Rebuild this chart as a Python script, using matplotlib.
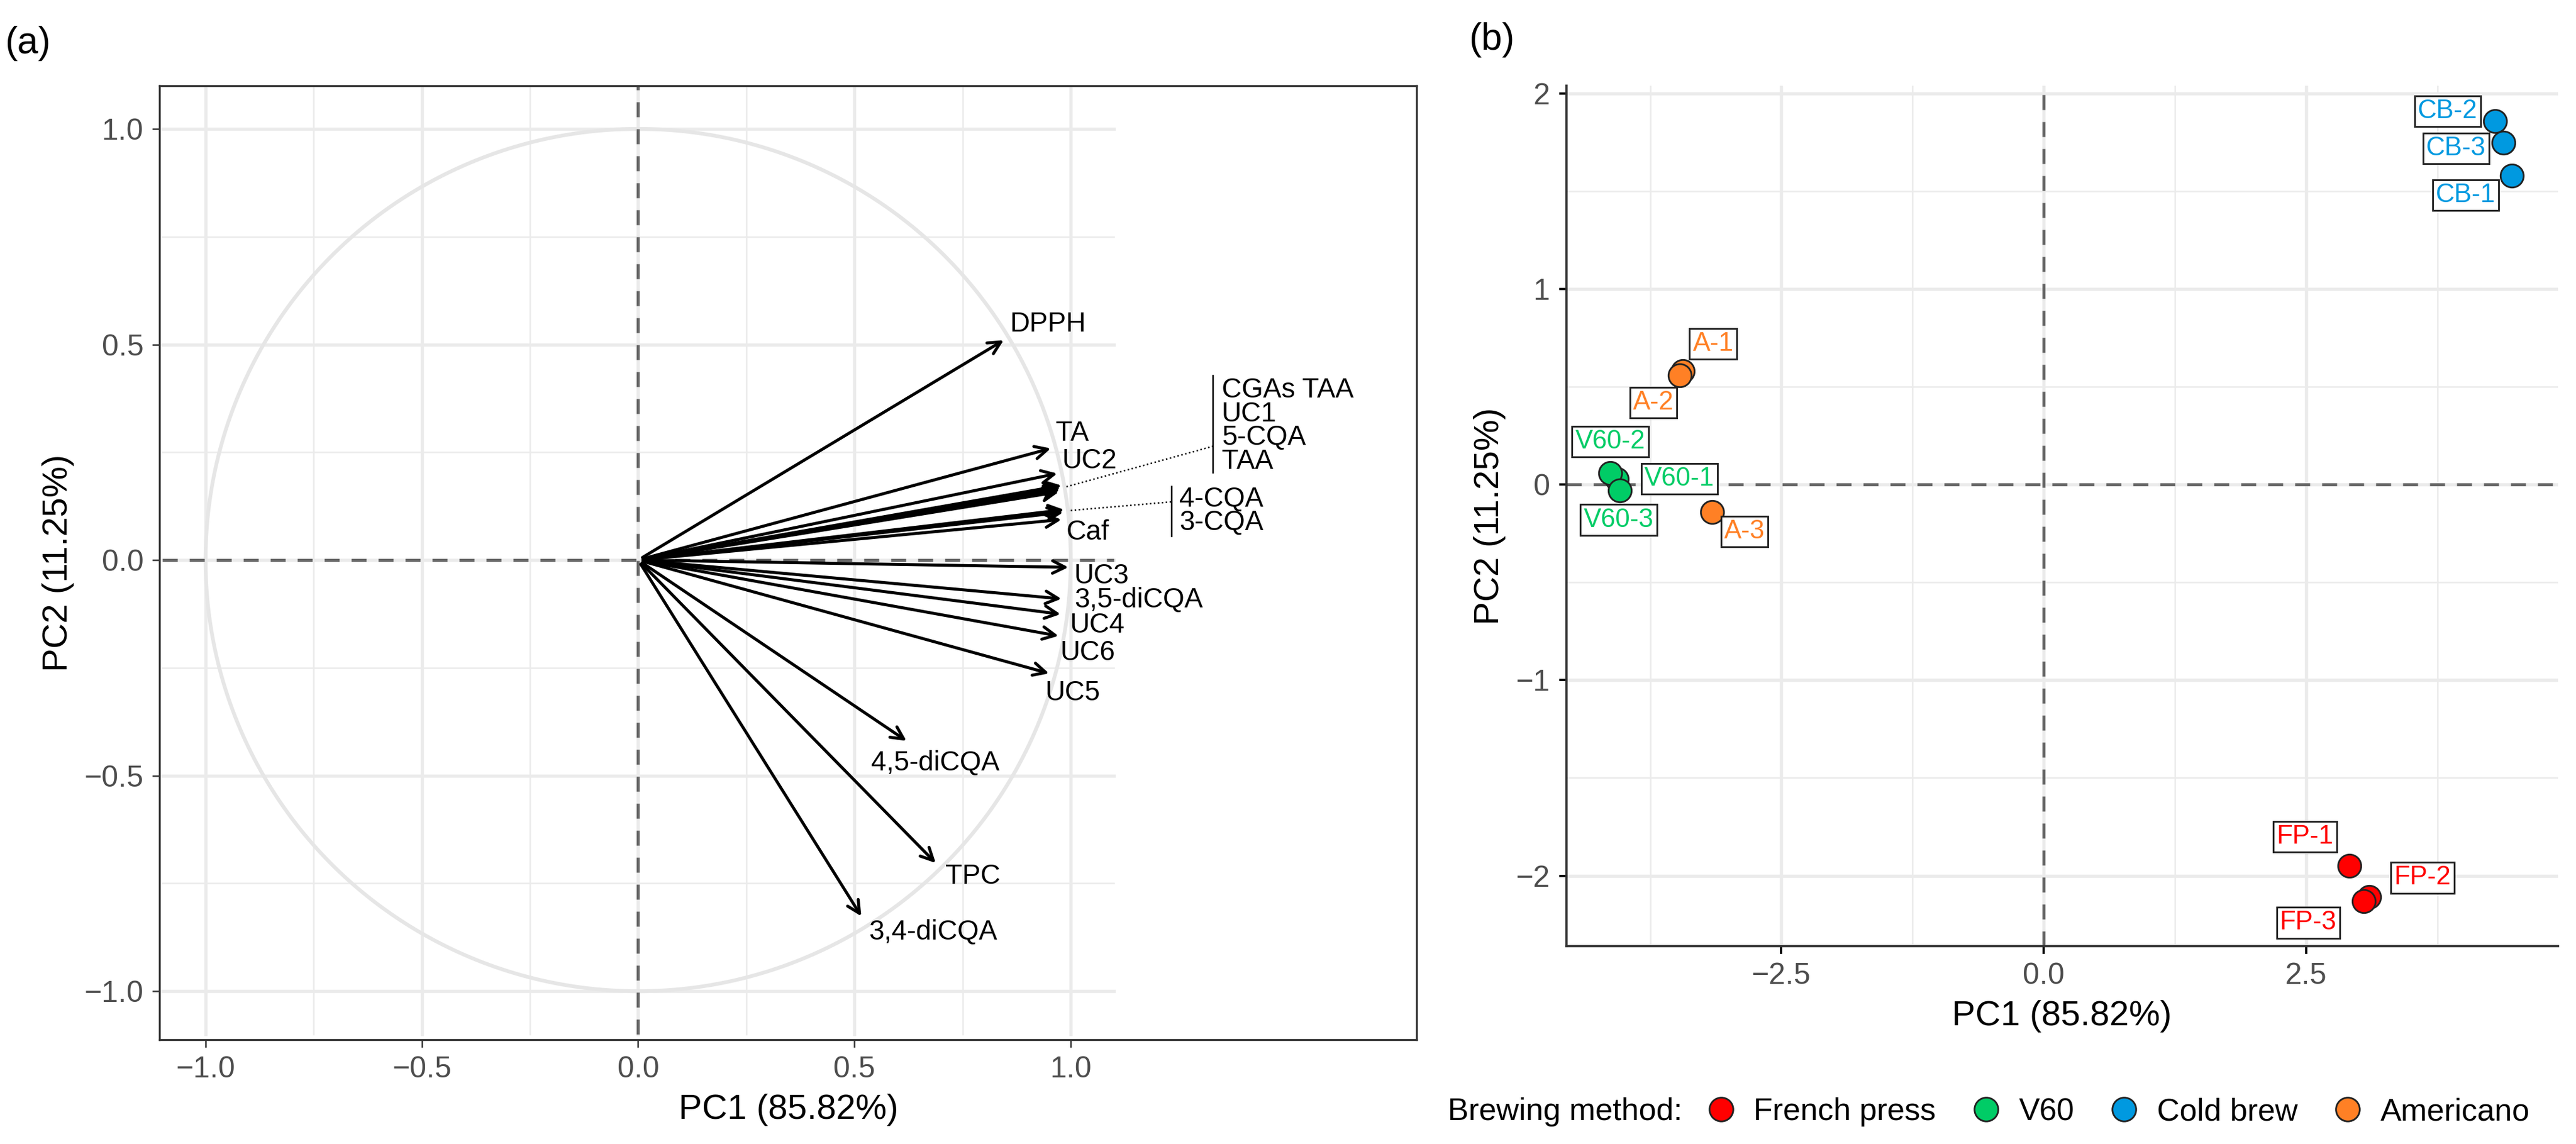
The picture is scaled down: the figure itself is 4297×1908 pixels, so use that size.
import numpy as np
import matplotlib.pyplot as plt
from matplotlib.lines import Line2D
from matplotlib.offsetbox import HPacker

plt.rcParams['font.family'] = ['Liberation Sans', 'DejaVu Sans']

# panel (a): loadings
var_names = ['DPPH', 'TA', 'UC2', 'CGAs TAA', 'UC1', '5-CQA', 'TAA', '4-CQA', '3-CQA', 'Caf',
             'UC3', '3,5-diCQA', 'UC4', 'UC6', 'UC5', '4,5-diCQA', 'TPC', '3,4-diCQA']
load_pc1 = [0.855, 0.965, 0.980, 0.990, 0.988, 0.986, 0.984, 0.996, 0.994, 0.990,
            1.006, 0.990, 0.988, 0.983, 0.961, 0.63, 0.696, 0.522]
load_pc2 = [0.516, 0.262, 0.203, 0.175, 0.170, 0.165, 0.160, 0.118, 0.112, 0.095,
            -0.017, -0.091, -0.127, -0.178, -0.266, -0.426, -0.711, -0.836]
single_labels = {'DPPH': (0.859, 0.547), 'TA': (0.965, 0.293), 'UC2': (0.98, 0.23), 'Caf': (0.99, 0.064),
                 'UC3': (1.008, -0.037), '3,5-diCQA': (1.008, -0.093), 'UC4': (0.998, -0.152),
                 'UC6': (0.976, -0.215), 'UC5': (0.941, -0.308), '4,5-diCQA': (0.539, -0.472),
                 'TPC': (0.71, -0.734), '3,4-diCQA': (0.533, -0.863)}
group1 = ['CGAs TAA', 'UC1', '5-CQA', 'TAA']
group2 = ['4-CQA', '3-CQA']

# panel (b): scores
samples = ['CB-1', 'CB-2', 'CB-3', 'A-1', 'A-2', 'A-3', 'V60-1', 'V60-2', 'V60-3', 'FP-1', 'FP-2', 'FP-3']
method = ['Cold brew'] * 3 + ['Americano'] * 3 + ['V60'] * 3 + ['French press'] * 3
score_pc1 = [4.46, 4.30, 4.38, -3.44, -3.47, -3.16, -4.07, -4.13, -4.04, 2.91, 3.10, 3.05]
score_pc2 = [1.58, 1.86, 1.75, 0.58, 0.56, -0.14, 0.03, 0.06, -0.03, -1.95, -2.11, -2.13]
label_x = [4.02, 3.85, 3.93, -3.15, -3.72, -2.85, -3.47, -4.13, -4.05, 2.49, 3.61, 2.52]
label_y = [1.48, 1.91, 1.72, 0.72, 0.42, -0.24, 0.03, 0.22, -0.18, -1.80, -2.01, -2.24]
method_order = ['French press', 'V60', 'Cold brew', 'Americano']
method_colors = {'French press': '#FF0000', 'V60': '#00CC66', 'Cold brew': '#0099E0', 'Americano': '#FF8025'}

fig = plt.figure(figsize=(4297 / 300, 1908 / 300), dpi=300)
grid_c = '#EBEBEB'

# ---- panel (a)
ax = fig.add_axes([0.062, 0.091, 0.488, 0.834])
ax.set_xlim(-1.106, 1.80)
ax.set_ylim(-1.113, 1.10)
for v in np.arange(-1.0, 1.01, 0.25):
    lw = 1.3 if abs(v * 2 - round(v * 2)) < 1e-6 else 0.6
    ax.plot([v, v], [-1.1, 1.1], color=grid_c, lw=lw, zorder=0)
    ax.plot([-1.1, 1.1], [v, v], color=grid_c, lw=lw, zorder=0)
t = np.linspace(0, 2 * np.pi, 400)
ax.plot(np.cos(t), np.sin(t), color='#E6E6E6', lw=1.5, zorder=1)
ax.plot([0, 0], [-1.1, 1.1], color='#666666', lw=1.2, ls=(0, (5, 4)), zorder=2)
ax.plot([-1.1, 1.1], [0, 0], color='#666666', lw=1.2, ls=(0, (5, 4)), zorder=2)
for x, y in zip(load_pc1, load_pc2):
    ax.annotate('', xy=(x, y), xytext=(0, 0),
                arrowprops=dict(arrowstyle='->,head_length=0.5,head_width=0.25', color='black', lw=1.2), zorder=3)
for name, (lx, ly) in single_labels.items():
    ax.text(lx, ly, name, fontsize=11, ha='left', va='center')
for i, name in enumerate(group1):
    ax.text(1.349, 0.394 - i * 0.0553, name, fontsize=11, ha='left', va='center')
ax.plot([1.329, 1.329], [0.203, 0.428], color='black', lw=0.6)
for i, name in enumerate(group2):
    ax.text(1.251, 0.140 - i * 0.054, name, fontsize=11, ha='left', va='center')
ax.plot([1.233, 1.233], [0.056, 0.171], color='black', lw=0.6)
ax.plot([0.99, 1.329], [0.17, 0.264], color='black', lw=0.6, ls=':')
ax.plot([1.0, 1.233], [0.115, 0.135], color='black', lw=0.6, ls=':')
ax.set_xticks([-1.0, -0.5, 0.0, 0.5, 1.0])
ax.set_yticks([-1.0, -0.5, 0.0, 0.5, 1.0])
ax.tick_params(labelsize=12, length=3, width=0.6, labelcolor='#4D4D4D', color='#333333')
for s in ax.spines.values():
    s.set_color('#333333')
    s.set_linewidth(0.8)
ax.set_xlabel('PC1 (85.82%)', fontsize=14)
ax.set_ylabel('PC2 (11.25%)', fontsize=14)
fig.text(0.002, 0.962, '(a)', fontsize=15, va='center')

# ---- panel (b)
bx = fig.add_axes([0.608, 0.173, 0.385, 0.752])
bx.set_xlim(-4.55, 4.90)
bx.set_ylim(-2.36, 2.04)
bx.set_xticks([-2.5, 0.0, 2.5])
bx.set_yticks([-2, -1, 0, 1, 2])
bx.set_xticks([-3.75, -1.25, 1.25, 3.75], minor=True)
bx.set_yticks([-1.5, -0.5, 0.5, 1.5], minor=True)
bx.grid(True, which='major', color=grid_c, lw=1.3)
bx.grid(True, which='minor', color=grid_c, lw=0.6)
bx.set_axisbelow(True)
bx.axvline(0, color='#666666', lw=1.2, ls=(0, (5, 4)), zorder=1)
bx.axhline(0, color='#666666', lw=1.2, ls=(0, (5, 4)), zorder=1)
for x, y, m in zip(score_pc1, score_pc2, method):
    bx.scatter(x, y, s=85, color=method_colors[m], edgecolor='#222222', linewidth=0.7, zorder=3)
for s, lx, ly, m in zip(samples, label_x, label_y, method):
    bx.text(lx, ly, s, fontsize=10.5, color=method_colors[m], ha='center', va='center', zorder=4,
            bbox=dict(boxstyle='square,pad=0.12', fc='white', ec='#222222', lw=0.7))
bx.spines['top'].set_visible(False)
bx.spines['right'].set_visible(False)
for k in ['left', 'bottom']:
    bx.spines[k].set_color('#333333')
    bx.spines[k].set_linewidth(0.9)
bx.tick_params(which='major', labelsize=12, labelcolor='#4D4D4D', length=3, width=0.9)
bx.tick_params(which='minor', length=0)
bx.set_xlabel('PC1 (85.82%)', fontsize=14)
bx.set_ylabel('PC2 (11.25%)', fontsize=14)
fig.text(0.579, 0.965, '(b)', fontsize=15, va='center', ha='center')

handles = [Line2D([], [], marker='o', ls='', markersize=9.5, markerfacecolor=method_colors[m],
                  markeredgecolor='#222222', markeredgewidth=0.7, label=m) for m in method_order]
leg = fig.legend(handles=handles, loc='center', bbox_to_anchor=(0.772, 0.028), ncol=4, frameon=False,
                 fontsize=12.5, title='Brewing method:', title_fontsize=12.5, handletextpad=0.05,
                 columnspacing=0.6)
title_box = leg._legend_box._children[0]
rest = leg._legend_box._children[1]
leg._legend_box._children = [HPacker(children=[title_box, rest], align='center', pad=0, sep=3)]

fig.savefig('out.png', dpi=300)
